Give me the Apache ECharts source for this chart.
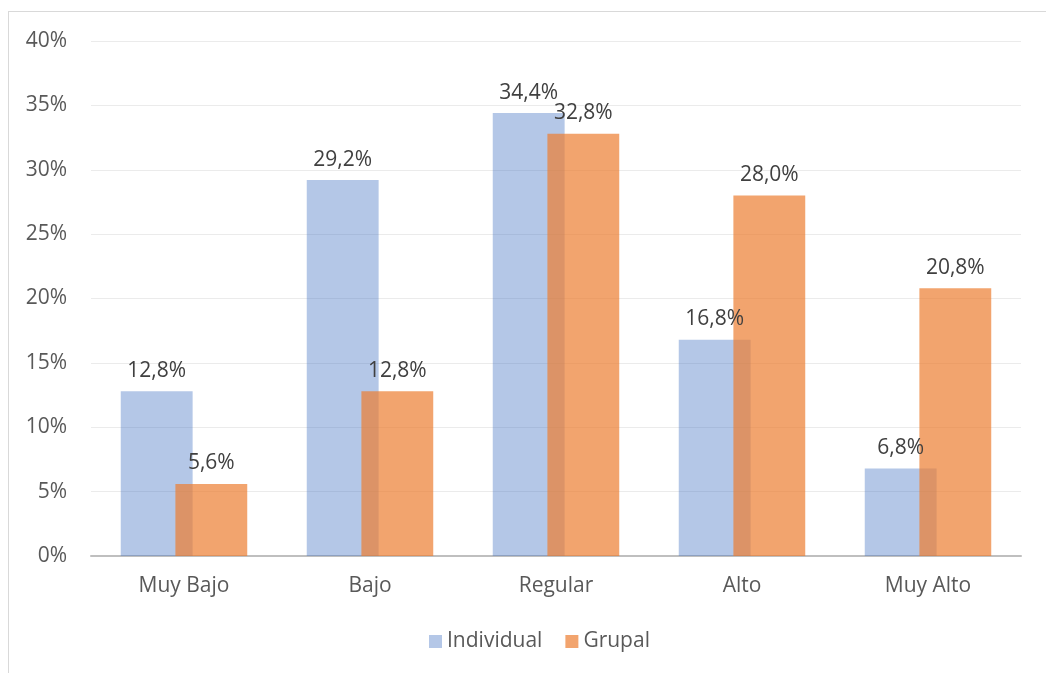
<!DOCTYPE html>
<html>
<head>
<meta charset="utf-8">
<script src="https://cdn.jsdelivr.net/npm/echarts@6/dist/echarts.min.js"></script>
<style>
  html, body { margin: 0; padding: 0; background: #fff; }
  #frame { position: absolute; left: 8px; top: 11px; width: 1100px; height: 700px; border: 1px solid #d9d9d9; box-sizing: border-box; }
  #chart { position: absolute; left: 0; top: 0; width: 1046px; height: 673px; }
</style>
</head>
<body>
<div id="frame"></div>
<div id="chart"></div>
<script>
const categories = ['Muy Bajo', 'Bajo', 'Regular', 'Alto', 'Muy Alto'];
const individual = [12.8, 29.2, 34.4, 16.8, 6.8];
const grupal = [5.6, 12.8, 32.8, 28.0, 20.8];

const fontFamily = '"Open Sans", "Noto Sans", sans-serif';
const fmt = v => v.toFixed(1).replace('.', ',') + '%';

const chart = echarts.init(document.getElementById('chart'));
chart.setOption({
  animation: false,
  textStyle: { fontFamily: fontFamily },
  grid: { left: 91, right: 25, top: 41, bottom: 117 },
  legend: {
    bottom: 16,
    left: 424,
    itemWidth: 13,
    itemHeight: 13,
    itemGap: 23,
    icon: 'rect',
    textStyle: { fontSize: 21, color: '#595959', fontFamily: fontFamily },
    data: ['Individual', 'Grupal']
  },
  xAxis: {
    type: 'category',
    data: categories,
    axisLine: { lineStyle: { color: '#bfbfbf', width: 2 } },
    axisTick: { show: false },
    axisLabel: { fontSize: 21, color: '#595959', margin: 20 }
  },
  yAxis: {
    type: 'value',
    min: 0,
    max: 40,
    interval: 5,
    axisLine: { show: false },
    axisTick: { show: false },
    axisLabel: { fontSize: 21, color: '#595959', margin: 24, formatter: v => v + '%' },
    splitLine: { lineStyle: { color: '#ebebeb', width: 1 } }
  },
  series: [
    {
      name: 'Individual',
      type: 'bar',
      data: individual,
      barGap: '-24%',
      barCategoryGap: '32%',
      itemStyle: { color: 'rgba(68,114,196,0.4)' },
      label: { show: true, position: 'top', distance: 10, fontSize: 21, color: '#404040', formatter: p => fmt(p.value) }
    },
    {
      name: 'Grupal',
      type: 'bar',
      data: grupal,
      itemStyle: { color: 'rgba(237,125,49,0.7)' },
      label: { show: true, position: 'top', distance: 10, fontSize: 21, color: '#404040', formatter: p => fmt(p.value) }
    }
  ]
});
</script>
</body>
</html>
